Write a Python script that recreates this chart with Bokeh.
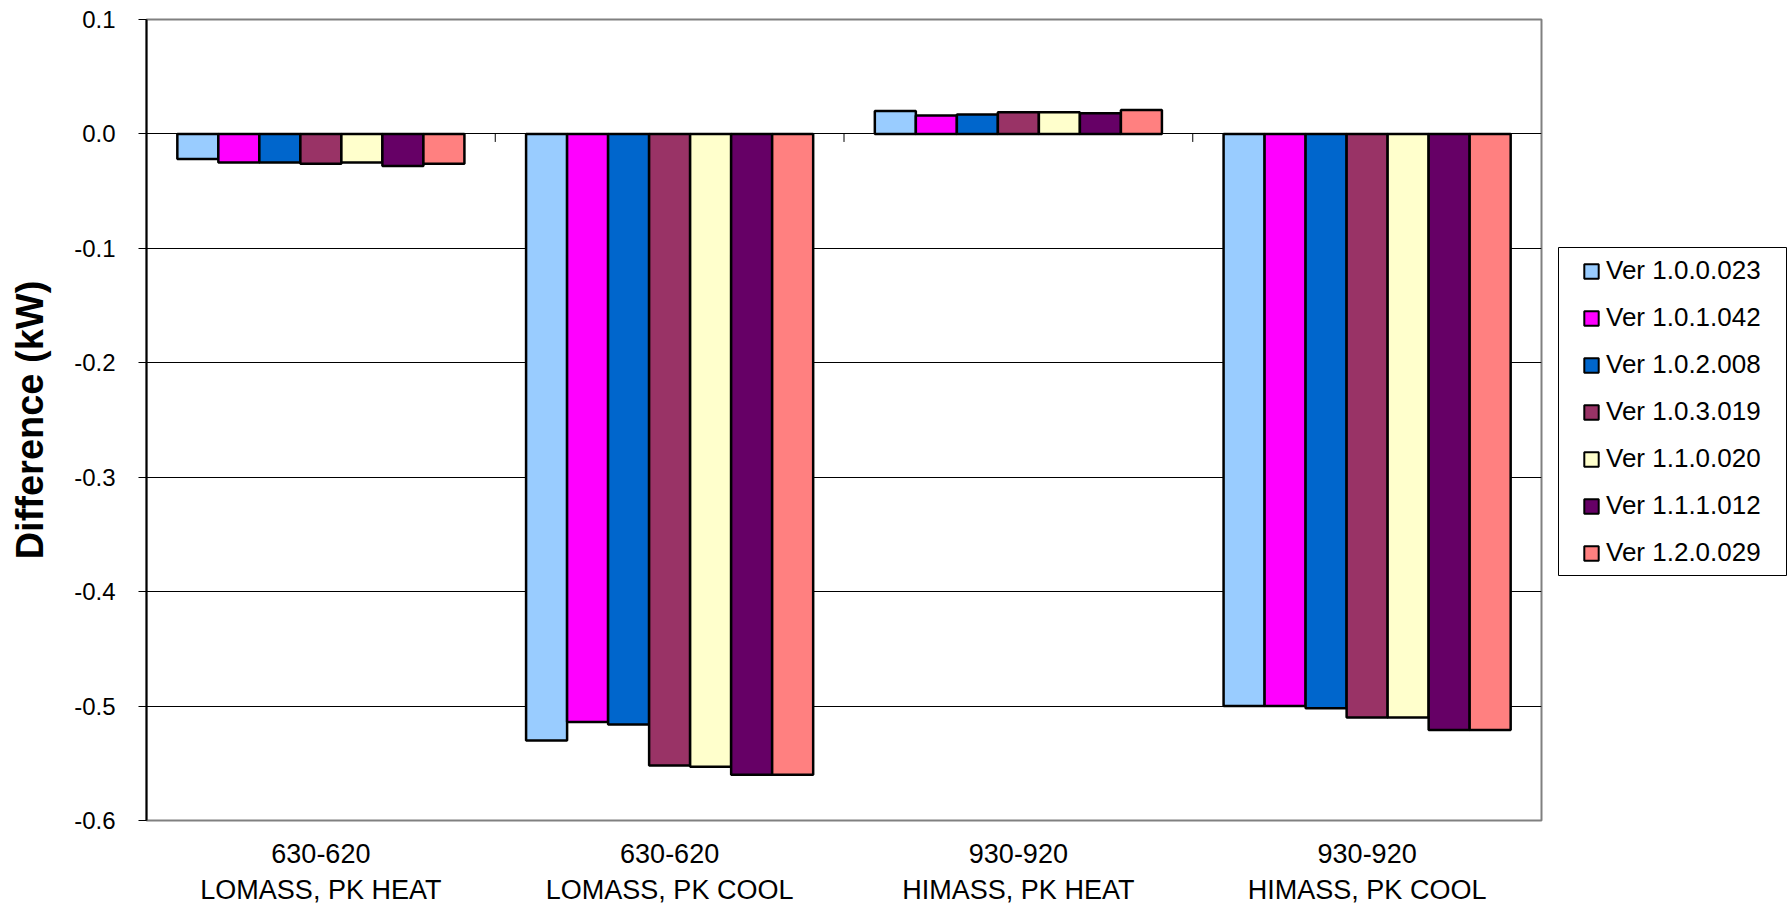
from bokeh.plotting import figure
from bokeh.layouts import row
from bokeh.models import (Range1d, FixedTicker, Legend, LegendItem, ColumnDataSource,
                          PrintfTickFormatter)
from bokeh.transform import dodge
from bokeh.embed import file_html
from bokeh.resources import INLINE

# ---------------- data ----------------
categories = ["630-620\nLOMASS, PK HEAT", "630-620\nLOMASS, PK COOL",
              "930-920\nHIMASS, PK HEAT", "930-920\nHIMASS, PK COOL"]
series_names = ["Ver 1.0.0.023", "Ver 1.0.1.042", "Ver 1.0.2.008", "Ver 1.0.3.019",
                "Ver 1.1.0.020", "Ver 1.1.1.012", "Ver 1.2.0.029"]
ver_1_0_0_023 = [-0.022, -0.530, 0.020, -0.500]
ver_1_0_1_042 = [-0.025, -0.514, 0.016, -0.500]
ver_1_0_2_008 = [-0.025, -0.516, 0.017, -0.502]
ver_1_0_3_019 = [-0.026, -0.552, 0.019, -0.510]
ver_1_1_0_020 = [-0.025, -0.553, 0.019, -0.510]
ver_1_1_1_012 = [-0.028, -0.560, 0.018, -0.521]
ver_1_2_0_029 = [-0.026, -0.560, 0.021, -0.521]
series_values = [ver_1_0_0_023, ver_1_0_1_042, ver_1_0_2_008, ver_1_0_3_019,
                 ver_1_1_0_020, ver_1_1_1_012, ver_1_2_0_029]
colors = ["#99CCFF", "#FF00FF", "#0066CC", "#993366", "#FFFFCC", "#660066", "#FF8080"]
y_ticks = [0.1, 0.0, -0.1, -0.2, -0.3, -0.4, -0.5, -0.6]
y_title = "Difference (kW)"

FONT = "Liberation Sans"

# ---------------- main chart ----------------
W, H = 1548, 909
FL, FT, FW, FH = 146, 19, 1395, 801
FB = H - FT - FH
p = figure(width=W, height=H, output_backend="svg", toolbar_location=None,
           x_range=Range1d(-0.5, len(categories) - 0.5),
           y_range=Range1d(min(y_ticks), max(y_ticks)),
           min_border_left=FL, min_border_right=W - FL - FW,
           min_border_top=FT, min_border_bottom=FB)
p.background_fill_color = "white"
p.border_fill_color = "white"
p.outline_line_color = "#808080"
p.outline_line_width = 2

x_idx = list(range(len(categories)))
n = len(series_names)
bar_w = 0.1176

for j, (name, vals, col) in enumerate(zip(series_names, series_values, colors)):
    src = ColumnDataSource(dict(x=x_idx, v=vals))
    p.vbar(x=dodge("x", (j - (n - 1) / 2) * bar_w, range=p.x_range), top="v", bottom=0,
           width=bar_w, source=src, fill_color=col, line_color="black", line_width=2.5)

# tick marks on the zero line at category boundaries
bounds = [i + 0.5 for i in x_idx[:-1]]
p.segment(x0=bounds, x1=bounds, y0=[0] * len(bounds), y1=[-0.007] * len(bounds),
          line_color="black", line_width=1)

# x axis (labels at bottom)
xa = p.xaxis[0]
xa.ticker = FixedTicker(ticks=x_idx)
xa.major_label_overrides = {i: c for i, c in enumerate(categories)}
xa.major_tick_out = 0
xa.major_tick_in = 0
xa.minor_tick_out = 0
xa.axis_line_color = None
xa.major_label_standoff = 18
xa.major_label_text_font = FONT
xa.major_label_text_font_size = "27px"
xa.major_label_text_color = "black"
xa.major_label_text_line_height = 1.2
p.xgrid.visible = False

# y axis
ya = p.yaxis[0]
ya.ticker = FixedTicker(ticks=y_ticks)
ya.formatter = PrintfTickFormatter(format="%.1f")
ya.major_tick_out = 8
ya.major_tick_in = 0
ya.minor_tick_out = 0
ya.minor_tick_in = 0
ya.axis_line_color = "black"
ya.axis_line_width = 2
ya.major_tick_line_color = "black"
ya.major_label_standoff = 23
ya.major_label_text_font = FONT
ya.major_label_text_font_size = "24px"
ya.major_label_text_color = "black"
ya.axis_label = y_title
ya.axis_label_text_font = FONT
ya.axis_label_text_font_style = "bold"
ya.axis_label_text_font_size = "38px"
ya.axis_label_text_color = "black"
ya.axis_label_standoff = 20
p.ygrid.ticker = FixedTicker(ticks=y_ticks)
p.ygrid.grid_line_color = "black"
p.ygrid.grid_line_width = 1

# ---------------- legend panel (pixel-like ranges; frame spans same rows as chart) ----------------
LW = 1787 - W
q = figure(width=LW, height=H, output_backend="svg", toolbar_location=None,
           x_range=Range1d(0, LW), y_range=Range1d(0, FH),
           min_border_left=0, min_border_right=0,
           min_border_top=FT, min_border_bottom=FB)
q.axis.visible = False
q.grid.visible = False
q.outline_line_color = None
q.background_fill_color = "white"
q.border_fill_color = "white"

bottom_y = FT + FH  # screen row of frame bottom

swatches = []
for name, col in zip(series_names, colors):
    # placeholder hidden behind the legend box so the legend swatch gets drawn
    r = q.vbar(x=[100], top=[bottom_y - 400], bottom=[bottom_y - 401], width=1,
               fill_color=col, line_color="black", line_width=2)
    swatches.append(r)

# legend frame box (drawn over the placeholders)
q.quad(left=[10], right=[LW - 1], top=[bottom_y - 247], bottom=[bottom_y - 575],
       fill_color="white", line_color="black", line_width=1)

items = [LegendItem(label=nm, renderers=[r]) for nm, r in zip(series_names, swatches)]
legend = Legend(items=items, location=(34, bottom_y - 568))
legend.label_text_font = FONT
legend.label_text_font_size = "26px"
legend.label_text_color = "black"
legend.glyph_width = 18
legend.glyph_height = 18
legend.label_standoff = 6
legend.label_height = 30
legend.spacing = 16
legend.padding = 10
legend.margin = 0
legend.border_line_color = None
legend.background_fill_alpha = 0
q.add_layout(legend, "center")

layout = row(p, q, spacing=0)
open("out.html", "w").write(file_html(layout, INLINE))
